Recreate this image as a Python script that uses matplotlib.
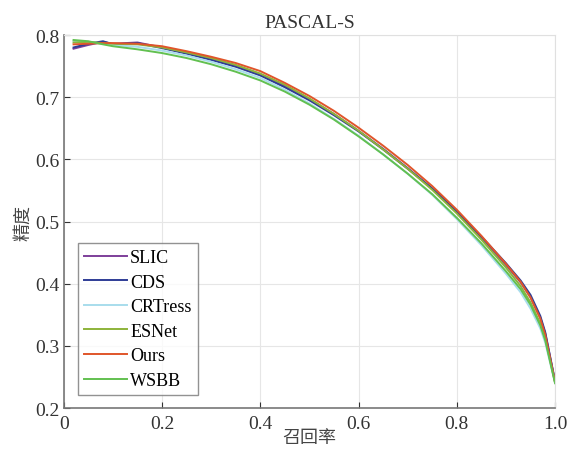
import numpy as np
import matplotlib
matplotlib.use("Agg")
import matplotlib.pyplot as plt

plt.rcParams['font.family'] = ['Liberation Serif', 'Noto Sans CJK SC']

recall = [0.02, 0.05, 0.08, 0.10, 0.15, 0.20, 0.25, 0.30, 0.35, 0.40, 0.45, 0.50,
          0.55, 0.60, 0.65, 0.70, 0.75, 0.80, 0.85, 0.90, 0.93, 0.95, 0.97, 0.98, 1.00]

slic = [0.778, 0.784, 0.789, 0.786, 0.788, 0.780, 0.771, 0.762, 0.751, 0.737, 0.718, 0.697,
        0.673, 0.646, 0.617, 0.586, 0.553, 0.515, 0.474, 0.430, 0.402, 0.378, 0.345, 0.320, 0.243]
cds = [0.780, 0.786, 0.790, 0.785, 0.787, 0.779, 0.770, 0.760, 0.749, 0.735, 0.716, 0.695,
       0.671, 0.645, 0.616, 0.585, 0.553, 0.516, 0.476, 0.433, 0.405, 0.382, 0.348, 0.322, 0.243]
crtress = [0.790, 0.789, 0.786, 0.784, 0.781, 0.775, 0.767, 0.757, 0.745, 0.731, 0.712, 0.690,
           0.665, 0.638, 0.608, 0.577, 0.543, 0.504, 0.462, 0.416, 0.386, 0.360, 0.328, 0.305, 0.240]
esnet = [0.788, 0.789, 0.787, 0.786, 0.785, 0.780, 0.772, 0.763, 0.752, 0.738, 0.720, 0.698,
         0.673, 0.646, 0.616, 0.585, 0.551, 0.513, 0.471, 0.426, 0.396, 0.370, 0.336, 0.312, 0.241]
ours = [0.785, 0.786, 0.787, 0.787, 0.786, 0.782, 0.774, 0.765, 0.755, 0.742, 0.723, 0.702,
        0.678, 0.651, 0.622, 0.591, 0.557, 0.519, 0.477, 0.432, 0.403, 0.378, 0.344, 0.318, 0.242]
wsbb = [0.792, 0.790, 0.785, 0.782, 0.777, 0.771, 0.763, 0.753, 0.741, 0.727, 0.709, 0.688,
        0.664, 0.637, 0.608, 0.577, 0.544, 0.506, 0.465, 0.420, 0.391, 0.366, 0.333, 0.309, 0.240]

names = ["SLIC", "CDS", "CRTress", "ESNet", "Ours", "WSBB"]
colors = ["#7E3F9A", "#2E3C96", "#A8DDEC", "#8DB33A", "#E0552A", "#62C050"]

fig = plt.figure(figsize=(5.74, 4.56), dpi=100)
ax = fig.add_axes([0.111, 0.103, 0.856, 0.818])

for ys, nm, c in zip([slic, cds, crtress, esnet, ours, wsbb], names, colors):
    ax.plot(recall, ys, color=c, lw=1.4, label=nm)

ax.set_xlim(0, 1)
ax.set_ylim(0.2, 0.8)
ax.set_xticks([0, 0.2, 0.4, 0.6, 0.8, 1.0])
ax.set_xticklabels(["0", "0.2", "0.4", "0.6", "0.8", "1.0"])
ax.set_yticks([0.2, 0.3, 0.4, 0.5, 0.6, 0.7, 0.8])
ax.grid(True, color="#e6e6e6", lw=0.8)
ax.tick_params(direction="in", labelsize=14, colors="#333333", length=4)
ax.tick_params(axis="x", pad=5)
ax.tick_params(axis="y", pad=3)
for s in ["top", "right"]:
    ax.spines[s].set_color("#e0e0e0")
for s in ["left", "bottom"]:
    ax.spines[s].set_color("#777777")
    ax.spines[s].set_linewidth(1.2)

ax.set_title("PASCAL-S", fontsize=14, color="#333333", pad=6)
ax.set_xlabel("召回率", fontsize=13, color="#444444", labelpad=-2)
ax.set_ylabel("精度", fontsize=13, color="#444444", labelpad=2)

leg = ax.legend(loc="lower left", fontsize=13, frameon=True, fancybox=False,
                edgecolor="#777777", handlelength=2.4, handletextpad=0.15,
                labelspacing=0.42, borderpad=0.35, bbox_to_anchor=(0.01, 0.01))
leg.get_frame().set_linewidth(1.0)

fig.savefig("out.png", dpi=100)
